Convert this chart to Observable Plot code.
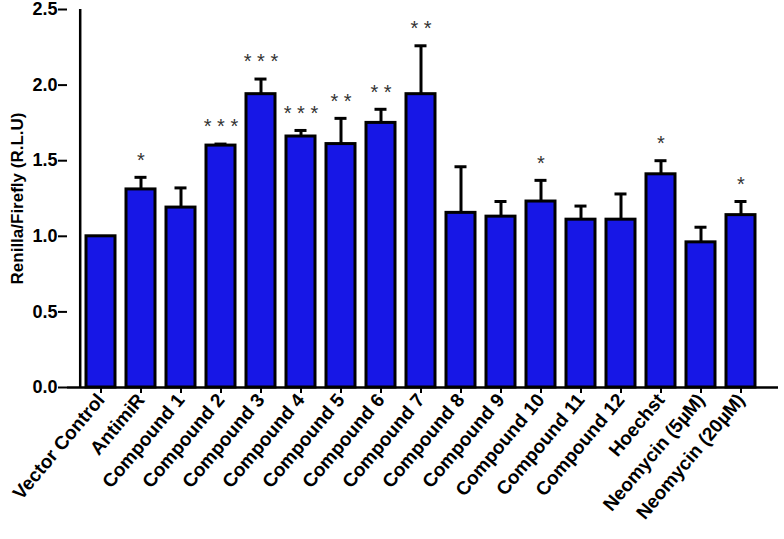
<!DOCTYPE html>
<html>
<head>
<meta charset="utf-8">
<script src="https://cdn.jsdelivr.net/npm/d3@7"></script>
<script src="https://cdn.jsdelivr.net/npm/@observablehq/plot@0.6"></script>
<style>
  html, body { margin: 0; padding: 0; background: #fff; }
</style>
</head>
<body>
<div id="chart"></div>
<script>
const categories = ["Vector Control", "AntimiR", "Compound 1", "Compound 2", "Compound 3", "Compound 4",
  "Compound 5", "Compound 6", "Compound 7", "Compound 8", "Compound 9", "Compound 10",
  "Compound 11", "Compound 12", "Hoechst", "Neomycin (5µM)", "Neomycin (20µM)"];
const means = [1.00, 1.31, 1.19, 1.60, 1.94, 1.66, 1.61, 1.75, 1.94, 1.155, 1.13, 1.23, 1.11, 1.11, 1.41, 0.96, 1.14];
const upper = [null, 1.39, 1.32, 1.61, 2.04, 1.70, 1.78, 1.84, 2.26, 1.46, 1.23, 1.37, 1.20, 1.28, 1.50, 1.06, 1.23];
const stars = ["", "*", "", "***", "***", "***", "**", "**", "**", "", "", "*", "", "", "*", "", "*"];
const yTicks = [0, 0.5, 1.0, 1.5, 2.0, 2.5];
const yLabel = "Renilla/Firefly (R.L.U)";

const data = categories.map((c, i) => ({cat: c, mean: means[i], up: upper[i], star: stars[i]}));
const withErr = data.filter(d => d.up != null);
const withStar = data.filter(d => d.star !== "");

const chart = Plot.plot({
  width: 784,
  height: 539,
  marginLeft: 67,
  marginRight: 10,
  marginTop: 9,
  marginBottom: 152,
  style: {fontFamily: "Arial, 'Liberation Sans', sans-serif", fontSize: "19px", fontWeight: "bold", color: "#000"},
  x: {domain: categories, padding: 0.28, align: 0.5},
  y: {domain: [0, 2.5]},
  marks: [
    Plot.barY(data, {x: "cat", y: "mean", fill: "#1717e6", stroke: "#000", strokeWidth: 3}),
    Plot.ruleX(withErr, {x: "cat", y1: "mean", y2: "up", stroke: "#000", strokeWidth: 3}),
    Plot.tickY(withErr, {x: "cat", y: "up", stroke: "#000", strokeWidth: 3, insetLeft: 8.5, insetRight: 8.5}),
    Plot.text(withStar, {x: "cat", y: "up", text: d => d.star.split("").join(" "), dy: -17,
      fontSize: 20, fontWeight: "normal", fill: "#333", textAnchor: "middle", lineAnchor: "middle"}),
    Plot.axisY({ticks: yTicks, tickFormat: () => "", tickSize: 9, stroke: "#000", strokeWidth: 2, label: null}),
    Plot.text(yTicks, {y: d => d, text: d3.format(".1f"), frameAnchor: "left", dx: -10,
      textAnchor: "end", lineAnchor: "middle", fontSize: 18, fontWeight: "bold", fill: "#000"}),
    Plot.text([yLabel], {text: d => d, frameAnchor: "left", dx: -50, rotate: -90,
      textAnchor: "middle", lineAnchor: "middle", fontSize: 17, fontWeight: "bold", fill: "#000"}),
    Plot.axisX({tickRotate: -50, tickSize: 6, tickPadding: 3,
      stroke: "#000", strokeWidth: 2, label: null}),
    Plot.ruleY([0], {stroke: "#000", strokeWidth: 2.5, insetRight: -4}),
    Plot.ruleX([categories[0]], {x: d => d, dx: -20.8, stroke: "#000", strokeWidth: 2.5})
  ]
});
document.getElementById("chart").appendChild(chart);
</script>
</body>
</html>
